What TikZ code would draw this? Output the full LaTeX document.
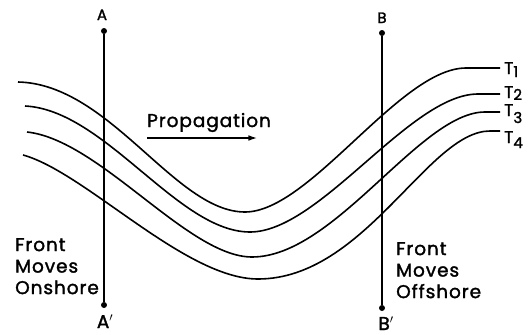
\documentclass[tikz,border=0pt]{standalone}
\usepackage{fontspec}
\setmainfont{Poppins}[FakeBold=1.6, LetterSpace=5]
\usetikzlibrary{arrows.meta,positioning}

\begin{document}
\begin{tikzpicture}[x=1pt,y=-1pt,
  font=\fontsize{18.5}{21.5}\selectfont,
  front/.style={line width=1.6pt},
  section/.style={line width=2.1pt},
  dot/.style={circle, fill, inner sep=0pt, minimum size=6pt},
  endlbl/.style={anchor=base, inner sep=0pt},
  tlbl/.style={anchor=base west, inner sep=0pt, font=\fontsize{17}{17}\selectfont},
  side/.style={anchor=north west, align=left, inner sep=0pt},
  arrow/.style={-{Latex[length=3mm,width=2mm]}, line width=1.3pt}
]
\useasboundingbox (0,0) rectangle (531,335);

\node[dot] (atop) at (104,31) {};
\node[dot] (abot) at (104,305) {};
\node[dot] (btop) at (382,33) {};
\node[dot] (bbot) at (382,308) {};
\draw[section] (atop) -- (abot);
\draw[section] (btop) -- (bbot);

\node[endlbl, font=\fontsize{15}{15}\selectfont] (alab) at (102,20) {A};
\node[endlbl, font=\fontsize{15}{15}\selectfont] (blab) at (382,23) {B};
\node[endlbl] (alab2) at (105,328) {A$'$};
\node[endlbl] (blab2) at (386,330) {B$'$};

\draw[front] (18,82) .. controls (110,84) and (175,212) .. (245,212)
  .. controls (310,212) and (400,68) .. (466,68) -- (500,68) coordinate (t1end);
\draw[front] (25,106) .. controls (105,110) and (178,232) .. (250,232)
  .. controls (320,232) and (410,94) .. (478,94) -- (500,94) coordinate (t2end);
\draw[front] (27,132) .. controls (100,140) and (188,257) .. (252,257)
  .. controls (335,257) and (420,112) .. (485,112) -- (500,112) coordinate (t3end);
\draw[front] (23,155) .. controls (85,172) and (185,279) .. (258,279)
  .. controls (365,279) and (428,131) .. (490,131) -- (500,131) coordinate (t4end);

\node[tlbl] (t1) at (504,74) {T\raisebox{-3pt}{\fontsize{15}{15}\selectfont 1}};
\node[tlbl] (t2) at (504,98) {T\raisebox{-2pt}{\fontsize{15}{15}\selectfont 2}};
\node[tlbl] (t3) at (504,116) {T\raisebox{-7pt}{\fontsize{15}{15}\selectfont 3}};
\node[tlbl] (t4) at (504,143) {T\raisebox{-5pt}{\fontsize{15}{15}\selectfont 4}};

\node[anchor=base west, inner sep=0pt] (prop) at (147,127) {Propagation};
\draw[arrow] ([yshift=-11pt]prop.base west) -- ++(110,0);

\node[side] (onshore) at (15,238) {Front\\Moves\\Onshore};
\node[side] (offshore) at (396,242) {Front\\Moves\\Offshore};
\end{tikzpicture}
\end{document}
